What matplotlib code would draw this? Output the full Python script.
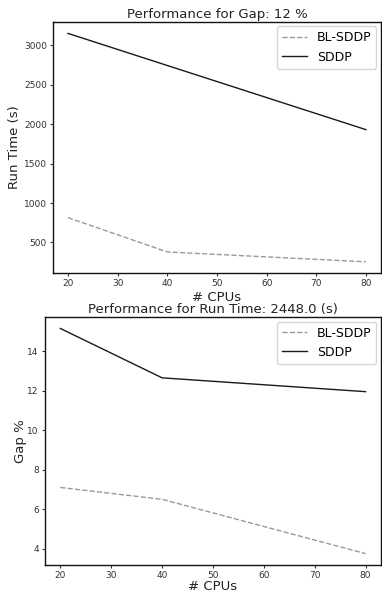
import matplotlib
matplotlib.use("Agg")
import matplotlib.pyplot as plt

cpus = [20, 40, 80]
time_bl = [815, 380, 255]
time_sddp = [3150, 2743, 1930]
gap_bl = [7.1, 6.5, 3.75]
gap_sddp = [15.15, 12.65, 11.95]

plt.rcParams['font.family'] = ['DejaVu Sans']
fig = plt.figure(figsize=(3.82, 5.94), dpi=100)

ax1 = fig.add_axes([0.139, 0.540, 0.858, 0.423])
ax2 = fig.add_axes([0.118, 0.049, 0.879, 0.417])

for ax, bl, sd, ylabel, title, xpad, ypad in [
    (ax1, time_bl, time_sddp, "Run Time (s)", "Performance for Gap: 12 %", 2, 2),
    (ax2, gap_bl, gap_sddp, "Gap %", "Performance for Run Time: 2448.0 (s)", 0, 0.5),
]:
    ax.plot(cpus, bl, color="#999999", linestyle="--", linewidth=1.0, label="BL-SDDP")
    ax.plot(cpus, sd, color="#1a1a1a", linestyle="-", linewidth=1.0, label="SDDP")
    ax.set_xlabel("# CPUs", fontsize=9.5, color="#222222", labelpad=xpad)
    ax.set_ylabel(ylabel, fontsize=9.5, color="#222222", labelpad=ypad)
    ax.set_title(title, fontsize=9.5, color="#222222", pad=3)
    ax.tick_params(labelsize=6.5, colors="#333333", length=2.5, width=0.8, pad=2)
    for s in ax.spines.values():
        s.set_linewidth(1.0)
        s.set_color("#111111")
    leg = ax.legend(loc="upper right", fontsize=9, framealpha=0.8, handlelength=2.0,
                    borderaxespad=0.35)
    leg.get_frame().set_edgecolor("#cccccc")

ax1.set_xticks([20, 30, 40, 50, 60, 70, 80])
ax1.set_yticks([500, 1000, 1500, 2000, 2500, 3000])
ax2.set_xticks([20, 30, 40, 50, 60, 70, 80])
ax2.set_yticks([4, 6, 8, 10, 12, 14])

fig.savefig("out.png", dpi=100)
